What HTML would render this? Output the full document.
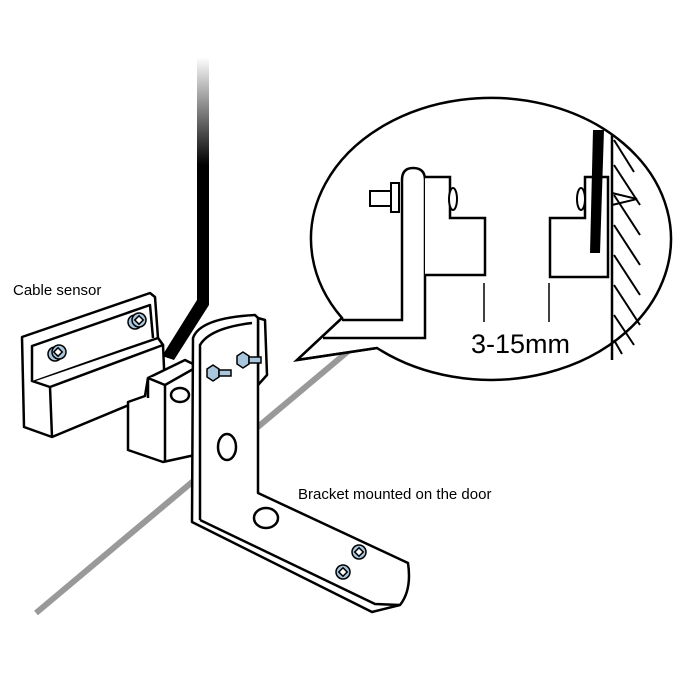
<!DOCTYPE html>
<html><head><meta charset="utf-8"><style>
html,body{margin:0;padding:0;background:#fff}
svg{display:block}
text{font-family:"Liberation Sans",sans-serif}
</style></head><body>
<svg width="700" height="700" viewBox="0 0 700 700" xmlns="http://www.w3.org/2000/svg">
<defs>
<linearGradient id="g" x1="0" y1="0" x2="0" y2="1">
<stop offset="0" stop-color="#fff"/><stop offset="0.6" stop-color="#000"/><stop offset="1" stop-color="#000"/>
</linearGradient>
</defs>
<!-- floor line -->
<line x1="36" y1="613" x2="352" y2="348" stroke="#999" stroke-width="6"/>
<!-- door edge strip -->
<rect x="197" y="57" width="12" height="180" fill="url(#g)"/>
<polygon points="197,230 209,230 209,305 174,360 162,356 197,300" fill="#000"/>

<!-- speech bubble -->
<path d="M342,318 A180,141 0 1 1 377,348 L297,360 Z" fill="#fff" stroke="#000" stroke-width="2.5" stroke-linejoin="miter"/>
<path d="M342,318 L297,360 L377,348" fill="none" stroke="#000" stroke-width="2.5"/>
<!-- left bracket in bubble -->
<path d="M323,338 L425,338 L425,180 Q425,168 413,168 Q402,168 402,180 L402,320 L342,320" fill="#fff" stroke="#000" stroke-width="2.5"/>
<rect x="370" y="191" width="22" height="15" fill="#fff" stroke="#000" stroke-width="2"/>
<rect x="391" y="183" width="8" height="29" fill="#fff" stroke="#000" stroke-width="2"/>
<path d="M425,177 L450,177 L450,218 L485,218 L485,275 L425,275" fill="#fff" stroke="#000" stroke-width="2.5"/>
<ellipse cx="453" cy="199" rx="4" ry="11" fill="#fff" stroke="#000" stroke-width="2"/>
<!-- right block -->
<path d="M608,177 L585,177 L585,218 L550,218 L550,277 L608,277 Z" fill="#fff" stroke="#000" stroke-width="2.5"/>
<ellipse cx="581" cy="199" rx="4" ry="11" fill="#fff" stroke="#000" stroke-width="2"/>
<polygon points="593,130 604,130 600,253 590,253" fill="#000"/>
<path d="M612,193 L637,199 L612,205" fill="#fff" stroke="#000" stroke-width="2"/>
<!-- wall -->
<line x1="612" y1="135" x2="612" y2="360" stroke="#000" stroke-width="2.5"/>
<g stroke="#000" stroke-width="2">
<line x1="614" y1="140" x2="634" y2="172"/>
<line x1="614" y1="165" x2="640" y2="205"/>
<line x1="614" y1="195" x2="640" y2="235"/>
<line x1="614" y1="225" x2="640" y2="265"/>
<line x1="614" y1="255" x2="640" y2="295"/>
<line x1="614" y1="285" x2="640" y2="325"/>
<line x1="614" y1="315" x2="634" y2="345"/>
<line x1="614" y1="340" x2="622" y2="354"/>
</g>
<line x1="484" y1="283" x2="484" y2="322" stroke="#000" stroke-width="1.5"/>
<line x1="549" y1="283" x2="549" y2="322" stroke="#000" stroke-width="1.5"/>
<text x="471" y="353" font-size="27" fill="#000">3-15mm</text>

<!-- cable sensor -->
<text x="13" y="295" font-size="15" fill="#000">Cable sensor</text>
<g stroke="#000" stroke-width="2.5" stroke-linejoin="round" fill="#fff">
<path d="M22,337 L150,293 L155,297 L158,338 L163,345 L165,390 L52,437 L24,427 Z"/>
<path d="M32,381 L158,338 L163,345 L50,387 Z"/>
<path d="M32,381 L32,346 L150,305 L153,338"/>
<line x1="50" y1="387" x2="52" y2="437"/>
<!-- second block -->
<path d="M148,378 L185,360 L195,365 L195,455 L163,462 L128,450 L128,402 L145,396 L148,378 Z"/>
<path d="M148,378 L165,385 L195,368"/>
<line x1="165" y1="385" x2="165" y2="462"/>
<path d="M148,378 L148,398"/>
</g>
<ellipse cx="180" cy="395" rx="9" ry="7" fill="#fff" stroke="#000" stroke-width="2.5"/>
<g fill="#a9c6dc" stroke="#000" stroke-width="1.5">
<circle cx="55" cy="354" r="7"/><circle cx="59" cy="352" r="7"/>
<rect x="55" y="349" width="6" height="6" transform="rotate(45 58 352)" fill="#fff"/>
<circle cx="135" cy="322" r="7"/><circle cx="139" cy="320" r="7"/>
<rect x="136" y="317" width="6" height="6" transform="rotate(45 139 320)" fill="#fff"/>
</g>

<!-- bracket -->
<g stroke="#000" stroke-width="2.5" fill="#fff" stroke-linejoin="round">
<path d="M258,318 L265,320 L267,375 L258,385 Z"/>
<path d="M193,338 Q200,318 255,315 L258,318 L258,493 L408,563 Q412,590 400,605 L372,612 L192,522 Z"/>
<path d="M200,520 L200,345 Q210,328 252,323" fill="none"/>
<path d="M200,520 L375,604 L400,605" fill="none"/>
</g>
<ellipse cx="227" cy="447" rx="9" ry="13" fill="#fff" stroke="#000" stroke-width="2.5"/>
<ellipse cx="266" cy="518" rx="12" ry="10" fill="#fff" stroke="#000" stroke-width="2.5"/>
<g fill="#a9c6dc" stroke="#000" stroke-width="1.5">
<circle cx="343" cy="572" r="7"/><rect x="340" y="569" width="6" height="6" transform="rotate(45 343 572)" fill="#fff"/>
<circle cx="359" cy="552" r="7"/><rect x="356" y="549" width="6" height="6" transform="rotate(45 359 552)" fill="#fff"/>
<polygon points="207,369 213,365 219,369 219,377 213,381 207,377"/>
<rect x="219" y="370" width="12" height="6"/>
<polygon points="237,356 243,352 249,356 249,364 243,368 237,364"/>
<rect x="249" y="357" width="12" height="6"/>
</g>
<text x="298" y="499" font-size="15" fill="#000">Bracket mounted on the door</text>
</svg>
</body></html>
